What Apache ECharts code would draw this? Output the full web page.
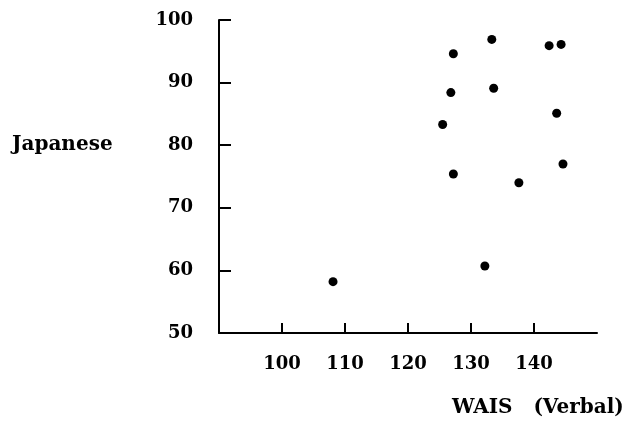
<!DOCTYPE html>
<html>
<head>
<meta charset="utf-8">
<script src="https://cdn.jsdelivr.net/npm/echarts@6/dist/echarts.min.js"></script>
<style>
	html, body { margin: 0; padding: 0; background: #fff; }
	#chart { width: 641px; height: 422px; }
</style>
</head>
<body>
<div id="chart"></div>
<script>
// WAIS verbal score (x) vs Japanese score (y), one dot per student
let wais = [108.1, 125.5, 126.8, 127.2, 127.2, 133.3, 133.6, 132.2, 137.6, 142.4, 144.3, 143.6, 144.6];
let japanese = [58.2, 83.3, 88.4, 94.6, 75.4, 96.9, 89.1, 60.7, 74.0, 95.9, 96.1, 85.1, 77.0];
let xTicks = [100, 110, 120, 130, 140];
let yTicks = [50, 60, 70, 80, 90, 100];

let font = 'DejaVu Serif';
let points = wais.map(function(x, i) {
	return [x, japanese[i]];
});

let myChart = echarts.init(document.getElementById('chart'));

let option = {
	animation: false,
	backgroundColor: '#fff',
	title: [{
		text: 'Japanese',
		left: 7,
		top: 130,
		textStyle: { fontFamily: font, fontSize: 20, fontWeight: 'bold', color: '#000' }
	}, {
		text: 'WAIS   (Verbal)',
		left: 447,
		top: 393,
		textStyle: { fontFamily: font, fontSize: 20, fontWeight: 'bold', color: '#000' }
	}],
	grid: {
		left: 219,
		top: 20,
		right: 44,
		bottom: 89
	},
	xAxis: {
		type: 'value',
		min: 90,
		max: 150,
		interval: 10,
		splitLine: { show: false },
		axisLine: { lineStyle: { color: '#000', width: 2 } },
		axisTick: {
			inside: true,
			length: 10,
			customValues: xTicks,
			lineStyle: { color: '#000', width: 2 }
		},
		axisLabel: {
			margin: 22,
			customValues: xTicks,
			fontFamily: font,
			fontSize: 18,
			fontWeight: 'bold',
			color: '#000'
		}
	},
	yAxis: {
		type: 'value',
		min: 50,
		max: 100,
		interval: 10,
		splitLine: { show: false },
		axisLine: { lineStyle: { color: '#000', width: 2 } },
		axisTick: {
			inside: true,
			length: 12,
			customValues: yTicks,
			lineStyle: { color: '#000', width: 2 }
		},
		axisLabel: {
			margin: 26,
			customValues: yTicks,
			fontFamily: font,
			fontSize: 18,
			fontWeight: 'bold',
			color: '#000'
		}
	},
	series: [{
		type: 'scatter',
		symbol: 'circle',
		symbolSize: 9,
		itemStyle: { color: '#000', opacity: 1 },
		data: points
	}]
};

myChart.setOption(option);
</script>
</body>
</html>
